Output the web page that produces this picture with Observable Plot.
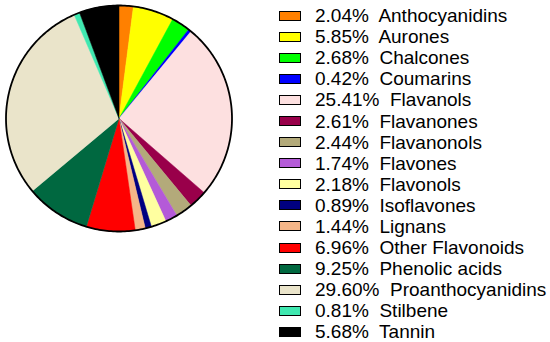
<!DOCTYPE html>
<html>
<head>
<meta charset="utf-8">
<script src="https://cdn.jsdelivr.net/npm/d3@7"></script>
<script src="https://cdn.jsdelivr.net/npm/@observablehq/plot@0.6"></script>
<style>
  html, body { margin: 0; padding: 0; background: #fff; }
  #wrap { display: flex; flex-direction: row; width: 550px; height: 342px; font-family: "Liberation Sans", Arial, sans-serif; }
  #legend { padding-left: 39px; padding-top: 5px; }
  .row { display: flex; align-items: center; height: 21.1px; }
  .sw { width: 20px; height: 8px; border: 1.8px solid #000; box-sizing: content-box; margin-right: 14px; }
  .lbl { font-size: 19px; white-space: pre; color: #000; line-height: 21px; }
</style>
</head>
<body>
<div id="wrap"><div id="chart"></div><div id="legend"></div></div>
<script>
const categories = ["Anthocyanidins","Aurones","Chalcones","Coumarins","Flavanols","Flavanones","Flavanonols","Flavones","Flavonols","Isoflavones","Lignans","Other Flavonoids","Phenolic acids","Proanthocyanidins","Stilbene","Tannin"];
const values = [2.04, 5.85, 2.68, 0.42, 25.41, 2.61, 2.44, 1.74, 2.18, 0.89, 1.44, 6.96, 9.25, 29.60, 0.81, 5.68];
const labels = ["2.04%","5.85%","2.68%","0.42%","25.41%","2.61%","2.44%","1.74%","2.18%","0.89%","1.44%","6.96%","9.25%","29.60%","0.81%","5.68%"];
const colors = ["#FF8000","#FFFF00","#00FF00","#0000FF","#FDE0E0","#99004A","#B3AA7A","#B45AD8","#FFFFA0","#000080","#F5B688","#FF0000","#006840","#EAE4CA","#40E8B0","#000000"];

// build slice polygons from data (clockwise from 12 o'clock)
const arcs = d3.pie().sort(null).value(d => d)(values);
const pts = [];
arcs.forEach((a, i) => {
  const n = Math.max(2, Math.ceil((a.endAngle - a.startAngle) / 0.01));
  pts.push({cat: categories[i], x: 0, y: 0});
  for (let k = 0; k <= n; k++) {
    const t = a.startAngle + (a.endAngle - a.startAngle) * k / n;
    pts.push({cat: categories[i], x: Math.sin(t), y: Math.cos(t)});
  }
  pts.push({cat: categories[i], x: 0, y: 0});
});
const ring = d3.range(0, 361).map(k => ({x: Math.sin(k * Math.PI / 180), y: Math.cos(k * Math.PI / 180)}));

const plot = Plot.plot({
  width: 240, height: 342,
  marginLeft: 5.5, marginRight: 8.5, marginTop: 5, marginBottom: 111,
  x: {domain: [-1, 1], axis: null},
  y: {domain: [-1, 1], axis: null},
  color: {domain: categories, range: colors},
  marks: [
    Plot.line(pts, {x: "x", y: "y", z: "cat", fill: "cat", stroke: "cat", strokeWidth: 0.5, curve: "linear"}),
    Plot.line(ring, {x: "x", y: "y", stroke: "#000", strokeWidth: 1.8})
  ]
});
document.getElementById("chart").appendChild(plot);

const lg = document.getElementById("legend");
categories.forEach((c, i) => {
  const row = document.createElement("div"); row.className = "row";
  const sw = document.createElement("div"); sw.className = "sw"; sw.style.background = colors[i];
  const tx = document.createElement("span"); tx.className = "lbl"; tx.textContent = labels[i] + "  " + c;
  row.appendChild(sw); row.appendChild(tx); lg.appendChild(row);
});
</script>
</body>
</html>
